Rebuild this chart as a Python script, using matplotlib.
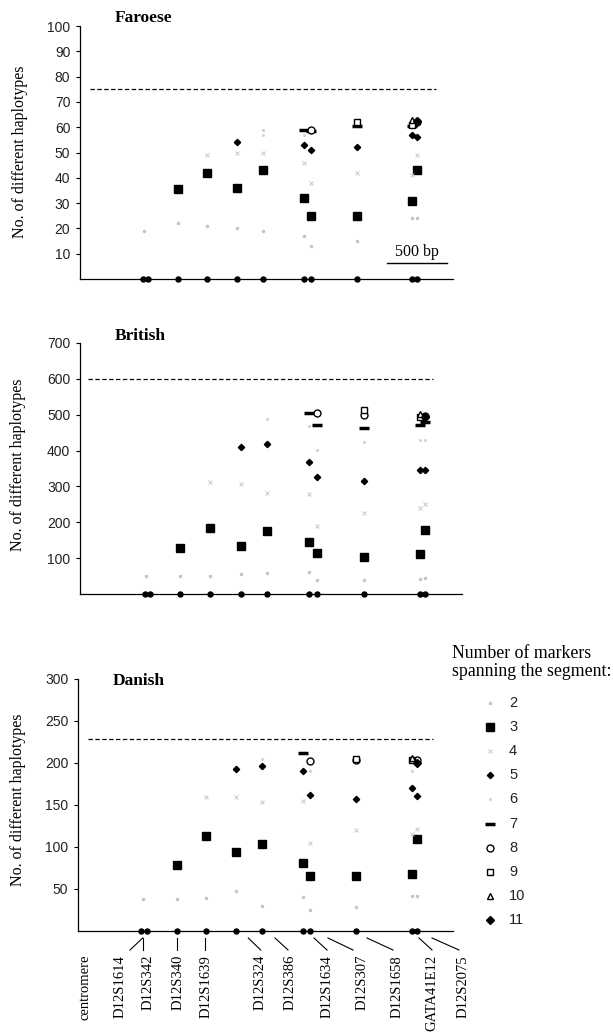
import matplotlib.pyplot as plt

# positions of the segments along the chromosome (bp from the axis start)
seg_x = [535, 817, 1058, 1308, 1525, 1867, 1925, 2308, 2767, 2808]
zero_x = [525, 568, 817, 1058, 1308, 1525, 1867, 1925, 2308, 2767, 2808]

# Faroese: segment index, no. of haplotypes, no. of markers spanning
far_col = [0, 1, 1, 2, 2, 2, 3, 3, 3, 3, 4, 4, 4, 4, 4, 5, 5, 5, 5, 5, 5,
           6, 6, 6, 6, 6, 6, 7, 7, 7, 7, 7, 7, 8, 8, 8, 8, 8, 8, 8,
           9, 9, 9, 9, 9, 9]
far_val = [19, 22, 35.5, 21, 42, 49, 20, 36, 50, 54, 19, 43, 50, 57, 59,
           17, 32, 46, 53, 57, 59, 13, 25, 38, 51, 58.5, 59,
           15, 25, 42, 52, 60.5, 62, 24, 31, 41, 57, 60.5, 61, 63,
           24, 43, 49, 56, 62, 62.5]
far_cat = [2, 2, 3, 2, 3, 4, 2, 3, 4, 5, 2, 3, 4, 6, 6, 2, 3, 4, 5, 6, 7,
           2, 3, 4, 5, 7, 8, 2, 3, 4, 5, 7, 9, 2, 3, 4, 5, 7, 9, 10,
           2, 3, 4, 5, 8, 11]

bri_col = [0, 1, 1, 2, 2, 2, 3, 3, 3, 3, 4, 4, 4, 4, 4, 5, 5, 5, 5, 5, 5,
           6, 6, 6, 6, 6, 6, 6, 7, 7, 7, 7, 7, 7, 7, 7,
           8, 8, 8, 8, 8, 8, 8, 8, 9, 9, 9, 9, 9, 9, 9, 9]
bri_val = [50, 50, 127, 50, 185, 313, 55, 133, 306, 409, 58, 177, 281, 417, 487,
           62, 146, 280, 368, 468, 506, 39, 114, 189, 326, 402, 472, 504,
           40, 102, 225, 314, 425, 463, 500, 512,
           42, 112, 240, 347, 430, 471, 495, 503, 45, 178, 250, 347, 430, 480, 497, 493]
bri_cat = [2, 2, 3, 2, 3, 4, 2, 3, 4, 5, 2, 3, 4, 5, 6, 2, 3, 4, 5, 6, 7,
           2, 3, 4, 5, 6, 7, 8, 2, 3, 4, 5, 6, 7, 8, 9,
           2, 3, 4, 5, 6, 7, 9, 10, 2, 3, 4, 5, 6, 7, 8, 11]

dan_col = [0, 1, 1, 2, 2, 2, 3, 3, 3, 3, 4, 4, 4, 4, 4, 5, 5, 5, 5, 5,
           6, 6, 6, 6, 6, 6, 7, 7, 7, 7, 7, 7, 8, 8, 8, 8, 8, 8, 8,
           9, 9, 9, 9, 9, 9]
dan_val = [38, 38, 79, 39, 113, 160, 48, 94, 160, 193, 30, 104, 153, 197, 205,
           40, 81, 155, 191, 212, 25, 66, 105, 162, 190, 202,
           28, 66, 120, 157, 203, 205, 42, 68, 115, 170, 190, 203, 206,
           42, 110, 122, 161, 203, 200]
dan_cat = [2, 2, 3, 2, 3, 4, 2, 3, 4, 5, 2, 3, 4, 5, 6, 2, 3, 4, 5, 7,
           2, 3, 4, 5, 6, 8, 2, 3, 4, 5, 8, 9, 2, 3, 4, 5, 6, 9, 10,
           2, 3, 4, 5, 8, 11]

# total number of haplotypes (dashed line)
far_max, bri_max, dan_max = 75, 600, 228

marker_names = ['centromere', 'D12S1614', 'D12S342', 'D12S340', 'D12S1639',
                'D12S324', 'D12S386', 'D12S1634', 'D12S307', 'D12S1658',
                'GATA41E12', 'D12S2075']
legend_cats = [2, 3, 4, 5, 6, 7, 8, 9, 10, 11]

# layout (figure pixels)
label_px = [85, 120, 148, 178, 206, 260, 290, 327, 362, 397, 432, 463]
leader_top_px = [None, 142.7, 142.7, 176.7, 205, 248.3, 275, 314, 328, 367, 419, 432]
leader_bot_px = [None, 130, 142.7, 176.7, 205, 260.7, 288, 327, 353, 393, 432, 459]

styles = {
    2: dict(marker='.', color='#c4c4c4', ms=3),
    3: dict(marker='s', color='black', ms=5.5),
    4: dict(marker='x', color='#bdbdbd', ms=2.8, mew=0.6),
    5: dict(marker='D', color='black', ms=3.2),
    6: dict(marker='.', color='#d2d2d2', ms=2.5),
    7: dict(marker='_', color='black', ms=7, mew=2.5),
    8: dict(marker='o', mfc='white', mec='black', ms=5, mew=1),
    9: dict(marker='s', mfc='white', mec='black', ms=5, mew=1),
    10: dict(marker='^', mfc='white', mec='black', ms=5, mew=1),
    11: dict(marker='D', color='black', ms=4.5),
}

serif = 'Liberation Serif'
sans = 'Liberation Sans'
W, H = 613, 1034

fig = plt.figure(figsize=(W / 100, H / 100), dpi=100)


def px_rect(l, t, r, b):
    return [l / W, 1 - b / H, (r - l) / W, (b - t) / H]


panels = [
    (px_rect(80, 26, 453, 279), far_col, far_val, far_cat, 100, range(10, 101, 10),
     far_max, (83, 2967), 'Faroese', (144, 18), 20, 152),
    (px_rect(80, 343, 462, 594), bri_col, bri_val, bri_cat, 700, range(100, 701, 100),
     bri_max, (65, 2873), 'British', (140, 336), 18, 465),
    (px_rect(78, 679, 453, 931), dan_col, dan_val, dan_cat, 300, range(50, 301, 50),
     dan_max, (83, 2942), 'Danish', (139, 681), 18, 800),
]

axes = []
for rect, cols, vals, cats, ymax, ticks, maxline, dspan, title, tpos, ylx, yly in panels:
    ax = fig.add_axes(rect)
    axes.append(ax)
    ax.set_xlim(0, 3108)
    ax.set_ylim(0, ymax)
    for c in legend_cats:
        xs = [seg_x[i] for i, k in zip(cols, cats) if k == c]
        ys = [v for v, k in zip(vals, cats) if k == c]
        ax.plot(xs, ys, ls='none', clip_on=False, zorder=3, **styles[c])
    ax.plot(zero_x, [0] * len(zero_x), ls='none', marker='o', color='black',
            ms=3.6, clip_on=False, zorder=4)
    ax.plot(dspan, [maxline, maxline], color='black', lw=0.9, ls=(0, (3.5, 2)))
    ax.set_yticks(list(ticks))
    ax.set_xticks([])
    for s in ['top', 'right']:
        ax.spines[s].set_visible(False)
    for s in ['left', 'bottom']:
        ax.spines[s].set_linewidth(0.9)
    ax.tick_params(axis='y', length=3, width=0.8, pad=4, labelsize=10)
    for lab in ax.get_yticklabels():
        lab.set_family(sans)
        lab.set_color('#222222')
    fig.text(tpos[0] / W, 1 - tpos[1] / H, title, family=serif, weight='bold',
             fontsize=12.5, ha='center', va='center')
    fig.text(ylx / W, 1 - yly / H, 'No. of different haplotypes', family=serif,
             fontsize=11.5, rotation=90, ha='center', va='center')

# scale bar in the Faroese panel
axes[0].plot([2558, 3058], [6.3, 6.3], color='black', lw=1)
axes[0].text(2808, 7.6, '500 bp', family=serif, fontsize=11.5, ha='center', va='bottom')

# overlay in pixel coordinates for marker names and legend
ov = fig.add_axes([0, 0, 1, 1])
ov.set_xlim(0, W)
ov.set_ylim(H, 0)
ov.axis('off')

for name, lx, t, b in zip(marker_names, label_px, leader_top_px, leader_bot_px):
    ov.text(lx, 955, name, family=serif, fontsize=10.5, rotation=90,
            ha='center', va='top')
    if t is not None:
        ov.plot([t, b], [938, 950], color='black', lw=0.8)

ov.text(452, 653, 'Number of markers', family=serif, fontsize=12.8, va='center')
ov.text(452, 672, 'spanning the segment:', family=serif, fontsize=12.8, va='center')
for i, c in enumerate(legend_cats):
    y = 703 + 24.1 * i
    ov.plot([490], [y], ls='none', **styles[c])
    ov.text(509, y, str(c), family=sans, fontsize=10.5, va='center', color='#222222')

fig.savefig('out.png', dpi=100)
